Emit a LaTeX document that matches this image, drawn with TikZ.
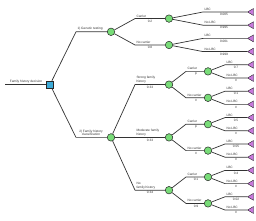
\documentclass[tikz,border=0pt]{standalone}
\usepackage{fontspec}
\setmainfont{Liberation Sans}
\usetikzlibrary{shapes.geometric}
\definecolor{decfill}{RGB}{60,170,215}
\definecolor{chfill}{RGB}{120,220,120}
\definecolor{termfill}{RGB}{200,120,220}
\tikzset{
  conn/.style={draw=black!80, line width=0.7pt},
  decisionnode/.style={draw=black!85, line width=0.5pt, fill=decfill, minimum size=7pt, inner sep=0pt, rectangle},
  chancenode/.style={draw=black!85, line width=0.5pt, fill=chfill, circle, minimum size=7.5pt, inner sep=0pt},
  termnode/.style={draw=black!85, line width=0.4pt, fill=termfill, isosceles triangle, shape border rotate=180, isosceles triangle apex angle=60, minimum height=6pt, inner sep=0pt},
  lab/.style={font=\fontsize{3.2}{3.6}\selectfont, inner sep=0.3pt, text=black!80},
  above lab/.style={lab, anchor=south west},
  below lab/.style={lab, anchor=north}
}
\begin{document}
\begin{tikzpicture}[x=1pt,y=-1pt]
\useasboundingbox (0,0) rectangle (256,221);
% root
\coordinate (start) at (5,84.6);
\node[decisionnode] (root) at (50,84.6) {};
\draw[conn] (start) -- (root);
\node[lab, anchor=south] (rootlab) at (26,83.6) {Family history decision};

% level 1
\node[chancenode] (G) at (111,31.8) {};
\coordinate (bG) at (76,31.8);
\draw[conn] (root) -- (bG) -- (G);
\node[above lab] (Glab) at (77,30.8) {1) Genetic testing};

\node[chancenode] (F) at (111,137.4) {};
\coordinate (bF) at (76,137.4);
\draw[conn] (root) -- (bF) -- (F);
\node[lab, anchor=south, align=center] (Flab) at (91,136.4) {2) Family history\\classification};

% genetic testing subtree
\node[chancenode] (C1) at (169,18.6) {};
\coordinate (bC1) at (135,18.6);
\draw[conn] (G) -- (bC1) -- (C1);
\node[above lab] (C1l) at (136,17.6) {Carrier};
\node[below lab] (C1p) at (150,19.6) {0.2};

\node[chancenode] (C2) at (169,45) {};
\coordinate (bC2) at (135,45);
\draw[conn] (G) -- (bC2) -- (C2);
\node[above lab] (C2l) at (136,44) {No carrier};
\node[below lab] (C2p) at (150,46) {0.8};

% leaves of C1, C2
\foreach \pa/\y/\i/\nm/\pr in {C1/12/0/LBC/0.005, C1/25.2/1/No LBC/0.995, C2/38.4/2/LBC/0.001, C2/51.6/3/No LBC/0.999}{
  \coordinate (bt\i) at (203,\y);
  \node[termnode] (t\i) at (251.5,\y) {};
  \draw[conn] (\pa) -- (bt\i) -- (t\i.apex);
  \node[above lab] (tl\i) at (204,\y-1) {\nm};
  \node[below lab] (tp\i) at (224,\y+1) {\pr};
}

% family history subtree
\node[chancenode] (S) at (169,84.6) {};
\coordinate (bS) at (135,84.6);
\draw[conn] (F) -- (bS) -- (S);
\node[above lab, align=left] (Sl) at (136,83.6) {Strong family\\history};
\node[below lab] (Sp) at (150,85.6) {0.33};

\node[chancenode] (M) at (169,137.4) {};
\coordinate (bM) at (135,137.4);
\draw[conn] (F) -- (bM) -- (M);
\node[above lab, align=left] (Ml) at (136,136.4) {Moderate family\\history};
\node[below lab] (Mp) at (150,138.4) {0.33};

\node[chancenode] (N) at (169,190.2) {};
\coordinate (bN) at (135,190.2);
\draw[conn] (F) -- (bN) -- (N);
\node[above lab, align=left] (Nl) at (136,189.2) {No\\family history};
\node[below lab] (Np) at (150,191.2) {0.34};

% carrier level
\foreach \pa/\nd/\y/\nm/\pr in {S/SC/71.4/Carrier/p, S/SN/97.8/No carrier/\#, M/MC/124.2/Carrier/p, M/MN/150.6/No carrier/\#, N/NC/177/Carrier/0.1, N/NN/203.4/No carrier/0.9}{
  \node[chancenode] (\nd) at (208,\y) {};
  \coordinate (b\nd) at (186,\y);
  \draw[conn] (\pa) -- (b\nd) -- (\nd);
  \node[above lab] (\nd l) at (187,\y-1) {\nm};
  \node[below lab] (\nd p) at (196,\y+1) {\pr};
}

% leaves of carrier level
\foreach \pa/\y/\i/\nm/\pr in {SC/64.8/4/LBC/0.7, SC/78/5/No LBC/\#, SN/91.2/6/LBC/0.1, SN/104.4/7/No LBC/\#, MC/117.6/8/LBC/0.5, MC/130.8/9/No LBC/\#, MN/144/10/LBC/0.05, MN/157.2/11/No LBC/\#, NC/170.4/12/LBC/0.4, NC/183.6/13/No LBC/\#, NN/196.8/14/LBC/0.02, NN/210/15/No LBC/\#}{
  \coordinate (bt\i) at (225,\y);
  \node[termnode] (t\i) at (251.5,\y) {};
  \draw[conn] (\pa) -- (bt\i) -- (t\i.apex);
  \node[above lab] (tl\i) at (226,\y-1) {\nm};
  \node[below lab] (tp\i) at (236,\y+1) {\pr};
}
\end{tikzpicture}
\end{document}
